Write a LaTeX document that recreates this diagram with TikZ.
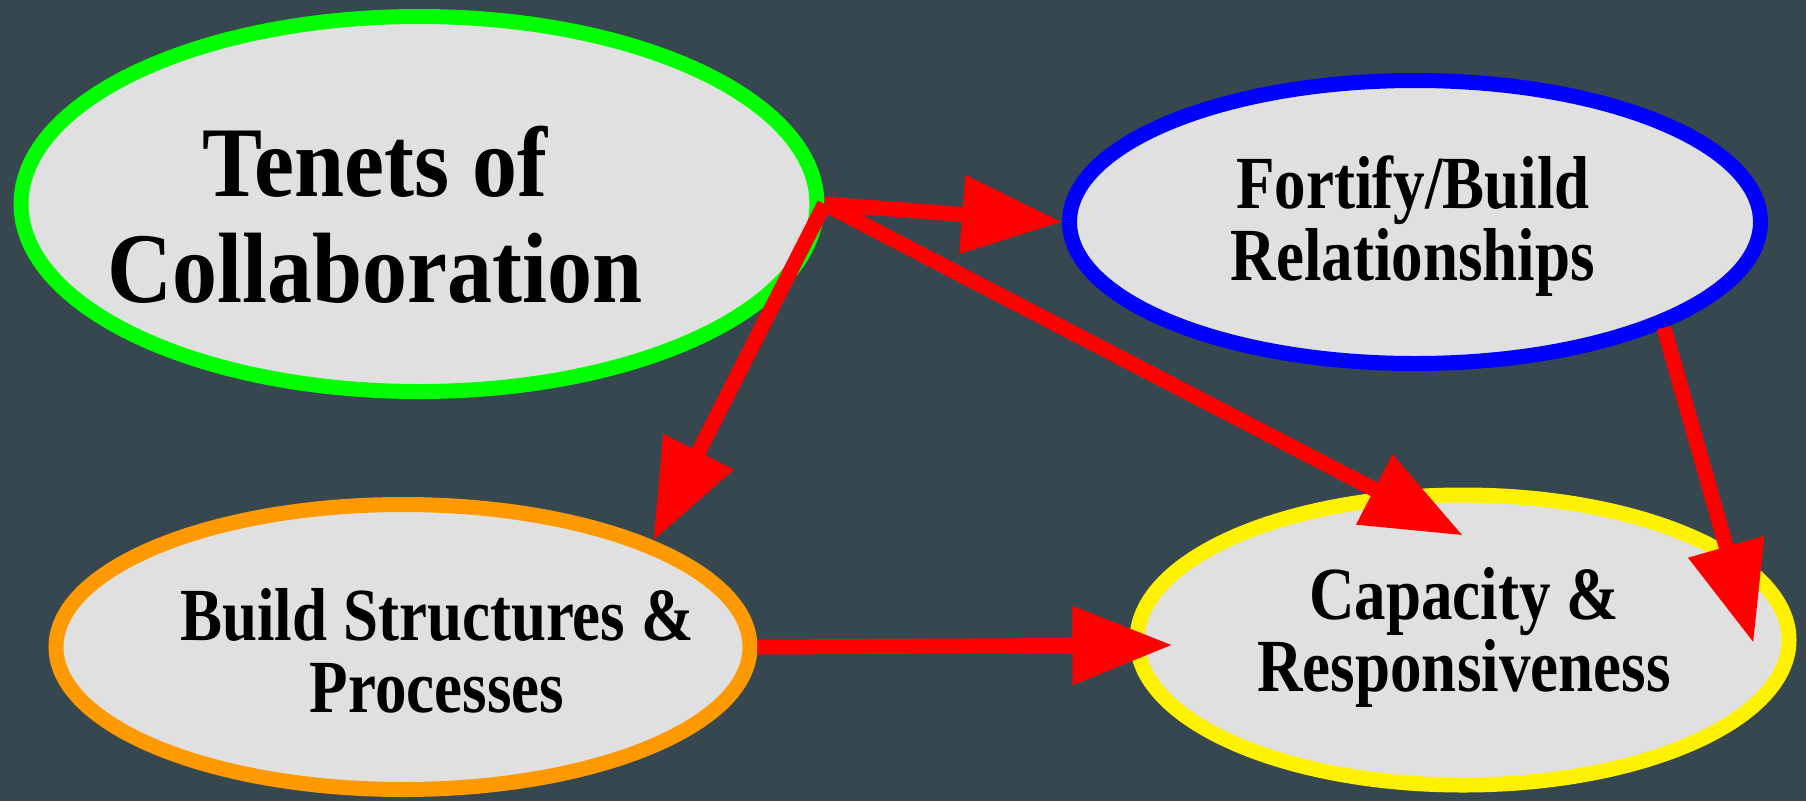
\documentclass[tikz,border=0pt]{standalone}
\usepackage{fontspec}
\setmainfont{Liberation Serif}[FakeStretch=0.84]
\newfontfamily\bigface{Liberation Serif}[FakeStretch=0.9]
\usetikzlibrary{calc,shapes.geometric,arrows.meta}
\definecolor{slate}{HTML}{37474F}
\definecolor{paper}{HTML}{E0E0E0}
\definecolor{amber}{HTML}{FF9900}
\tikzset{
  blob/.style={ellipse, draw=#1, fill=paper, line width=15pt, inner sep=0pt},
  lbl/.style={align=center, anchor=base, font=\bfseries\fontsize{75}{72}\selectfont},
  link/.style={draw=red, line width=15pt, -{Triangle[length=100pt,width=75pt]}}
}
\begin{document}
\begin{tikzpicture}[x=1pt,y=-1pt]
  %%%%% START %%%%%
  \fill[slate] (0,0) rectangle (1806,801);

  \node[blob=green, minimum width=796pt, minimum height=375pt] (tenets) at (419,204) {};
  \node[blob=blue, minimum width=691pt, minimum height=283pt] (fortify) at (1415,222) {};
  \node[blob=amber, minimum width=694pt, minimum height=285pt] (build) at (403,647) {};
  \node[blob=yellow, minimum width=652pt, minimum height=290pt] (capacity) at (1463,640) {};

  \node[lbl, font=\bigface\bfseries\fontsize{100}{106}\selectfont] (tenets-t) at (375,302) {Tenets of\\Collaboration};
  \node[lbl] (fortify-t) at (1413,280) {Fortify/Build\\Relationships};
  \node[lbl] (build-t) at (437,712) {Build Structures \&\\Processes};
  \node[lbl] (capacity-t) at (1464,691) {Capacity \&\\Responsiveness};

  \draw[link] (tenets.east) -- (fortify.west);
  \draw[link] (tenets.east) -- (build.23);
  \draw[link] (tenets.east) -- ($(capacity.north)+(0,48)$);
  \draw[link] (fortify.-23) -- ($(capacity.east)+(-43,3)$);
  \draw[link] (build.east) -- ($(capacity.west)+(43,5)$);
  %%%%% END %%%%%
\end{tikzpicture}
\end{document}
